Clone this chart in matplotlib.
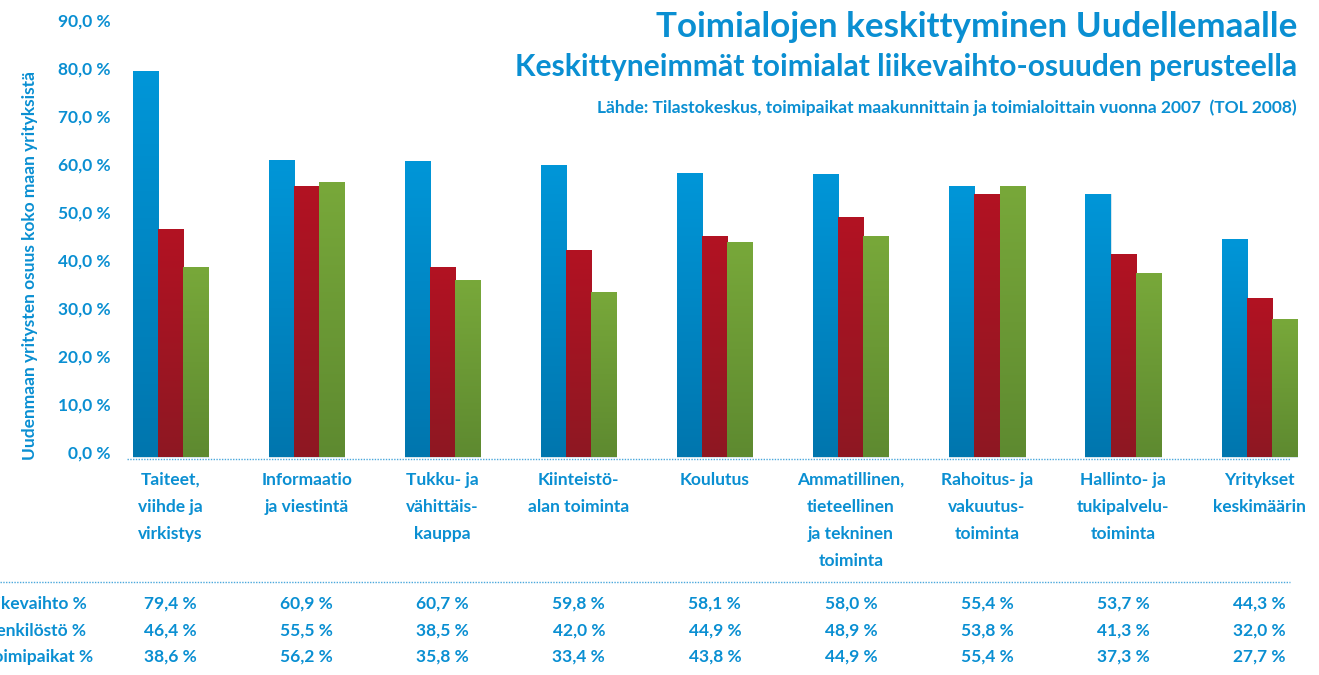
import numpy as np
import matplotlib
matplotlib.use("Agg")
import matplotlib.pyplot as plt
from matplotlib.transforms import blended_transform_factory
from matplotlib.colors import LinearSegmentedColormap

categories = ["Taiteet,\nviihde ja\nvirkistys", "Informaatio\nja viestintä", "Tukku- ja\nvähittäis-\nkauppa",
              "Kiinteistö-\nalan toiminta", "Koulutus", "Ammatillinen,\ntieteellinen\nja tekninen\ntoiminta",
              "Rahoitus- ja\nvakuutus-\ntoiminta", "Hallinto- ja\ntukipalvelu-\ntoiminta", "Yritykset\nkeskimäärin"]
liikevaihto = [79.4, 60.9, 60.7, 59.8, 58.1, 58.0, 55.4, 53.7, 44.3]
henkilosto = [46.4, 55.5, 38.5, 42.0, 44.9, 48.9, 53.8, 41.3, 32.0]
toimipaikat = [38.6, 56.2, 35.8, 33.4, 43.8, 44.9, 55.4, 37.3, 27.7]
series_names = ["Liikevaihto %", "Henkilöstö %", "Toimipaikat %"]
yticks = [0, 10, 20, 30, 40, 50, 60, 70, 80, 90]

BLUE_TXT = "#0a8fd2"
FONT = "Lato"
FS = 12.5
plt.rcParams['font.family'] = [FONT, 'DejaVu Sans']

W, H = 1319, 675
YMIN, YMAX = -1.5, 90
PX_PER_UNIT = 4.8
ax_top = 20
ax_h = (YMAX - YMIN) * PX_PER_UNIT
fig = plt.figure(figsize=(W / 100, H / 100), dpi=100)
ax = fig.add_axes([127 / W, 1 - (ax_top + ax_h) / H, 1 - 127 / W, ax_h / H])

series = [liikevaihto, henkilosto, toimipaikat]
grads = [("#0096d8", "#0076ae"), ("#b21222", "#8e1822"), ("#78a83a", "#5e8a30")]
bw = 0.184
bar_base = -1.0
x = np.arange(len(categories))
for k, (vals, (ctop, cbot)) in enumerate(zip(series, grads)):
    vals = np.asarray(vals)
    bars = ax.bar(x + (k - 1) * bw, vals - bar_base, bottom=bar_base, width=bw, color=ctop,
                  edgecolor="#d8e6ee", linewidth=0.7, zorder=2)
    cmap = LinearSegmentedColormap.from_list("g%d" % k, [cbot, ctop])
    grad = np.linspace(0, 1, 100).reshape(-1, 1)
    for b in bars:
        x0, w = b.get_x(), b.get_width()
        y0, y1 = b.get_y(), b.get_y() + b.get_height()
        im = ax.imshow(grad, cmap=cmap, origin="lower", aspect="auto",
                       extent=[x0, x0 + w, y0, y1], zorder=3)
        im.set_clip_path(b)

ax.set_xlim(-0.32, 8.44)
ax.set_ylim(YMIN, YMAX)
for s in ax.spines.values():
    s.set_visible(False)
ax.set_xticks([])
ax.set_yticks(yticks)
ax.set_yticklabels([f"{v:.1f} %".replace(".", ",") for v in yticks],
                   fontsize=FS, fontweight="bold", color=BLUE_TXT)
ax.tick_params(axis="y", length=0, pad=12)
ax.axhline(YMIN + 0.05, xmin=0, xmax=(1290 - 127) / (W - 127), color="#4aa8dc", lw=1.0,
           ls=(0, (1, 1)), zorder=4, clip_on=False)

fig.text(30 / W, 1 - 265 / H, "Uudenmaan yritysten osuus koko maan yrityksistä", rotation=90,
         ha="center", va="center", fontsize=FS, fontweight="bold", color=BLUE_TXT)

tr = blended_transform_factory(ax.transData, fig.transFigure)
for i, cat in enumerate(categories):
    for j, line in enumerate(cat.split("\n")):
        ax.text(i, 1 - (480 + 27 * j) / H, line, transform=tr, ha="center", va="center",
                fontsize=FS, fontweight="bold", color=BLUE_TXT)

fig.add_artist(plt.Line2D([0, 1290 / W], [1 - 582 / H, 1 - 582 / H], color="#4aa8dc", lw=1.0, ls=(0, (1, 1))))

rows_y = [604, 631, 657]
for name, vals, yy in zip(series_names, series, rows_y):
    fig.text(-17 / W, 1 - yy / H, name, ha="left", va="center", fontsize=FS, fontweight="bold", color=BLUE_TXT)
    for i, v in enumerate(vals):
        ax.text(i, 1 - yy / H, f"{v:.1f} %".replace(".", ","), transform=tr, ha="center", va="center",
                fontsize=FS, fontweight="bold", color=BLUE_TXT)

fig.text(1297 / W, 1 - 27 / H, "Toimialojen keskittyminen Uudellemaalle", ha="right", va="center",
         fontsize=25.2, fontweight="bold", color=BLUE_TXT)
fig.text(1297 / W, 1 - 67 / H, "Keskittyneimmät toimialat liikevaihto-osuuden perusteella", ha="right", va="center",
         fontsize=21.6, fontweight="bold", color=BLUE_TXT)
fig.text(1297 / W, 1 - 108 / H, "Lähde: Tilastokeskus, toimipaikat maakunnittain ja toimialoittain vuonna 2007  (TOL 2008)",
         ha="right", va="center", fontsize=12.5, fontweight="bold", color=BLUE_TXT)

fig.savefig("out.png", dpi=100)
